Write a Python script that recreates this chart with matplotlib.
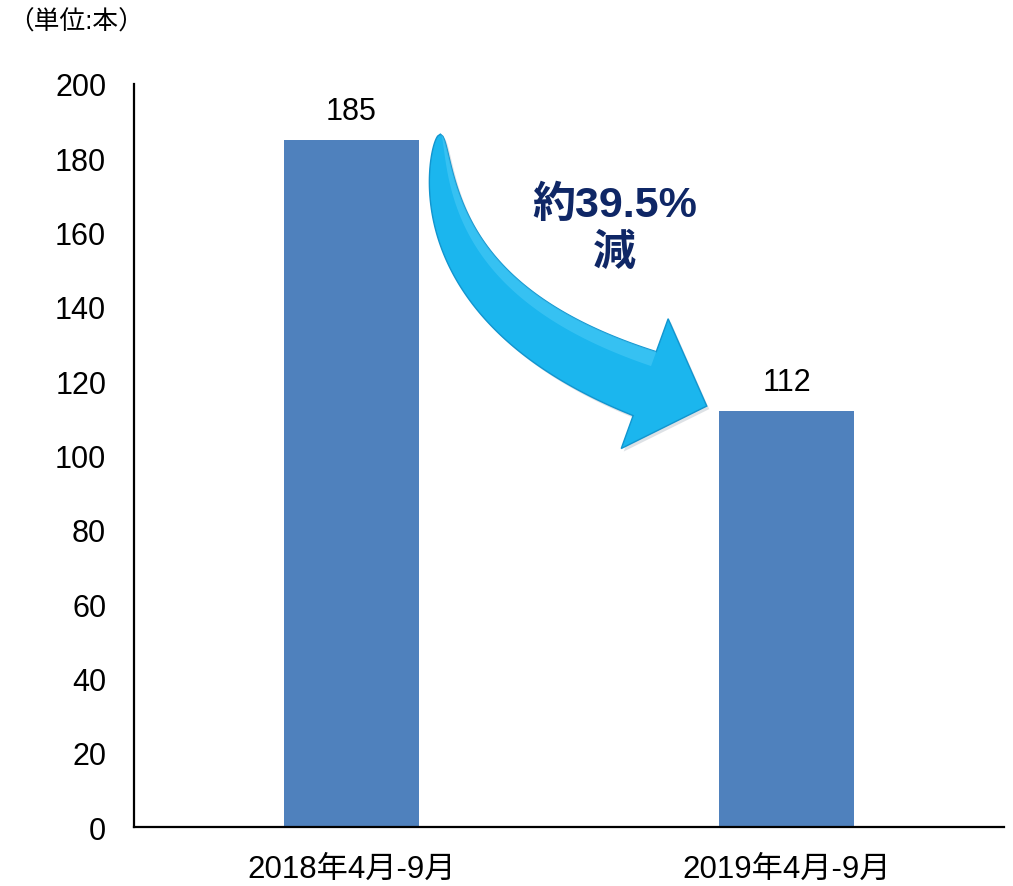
import matplotlib
matplotlib.use("Agg")
import numpy as np
import matplotlib.pyplot as plt
from matplotlib.patches import Polygon

categories = ["2018年4月-9月", "2019年4月-9月"]
values = [185, 112]
yticks = [0, 20, 40, 60, 80, 100, 120, 140, 160, 180, 200]
unit_label = "（単位:本）"
change_label = "約39.5%\n減"

FAM = ["Liberation Sans", "Noto Sans CJK JP", "DejaVu Sans"]
plt.rcParams['font.family'] = FAM

fig = plt.figure(figsize=(10.13, 8.87), dpi=100)
ax = fig.add_axes([0.1323, 0.0665, 0.9911 - 0.1323, 0.9042 - 0.0665])

x = list(range(len(categories)))
bw = 0.3126
ax.bar(x, values, width=bw, color="#4F81BD", zorder=2)
for xi, v in zip(x, values):
    ax.annotate(str(v), (xi, v), xytext=(0, 10), textcoords="offset points",
                ha="center", va="bottom", fontsize=22, color="black")

ax.set_xlim(-0.5, 1.5)
ax.set_ylim(0, 200)
ax.set_yticks(yticks)
ax.set_yticklabels([str(t) for t in yticks])
ax.set_xticks(x)
ax.set_xticklabels(categories)
ax.tick_params(axis="y", length=0, pad=20, labelsize=22)
ax.tick_params(axis="x", length=0, pad=19, labelsize=22.5)
for s in ["top", "right"]:
    ax.spines[s].set_visible(False)
for s in ["left", "bottom"]:
    ax.spines[s].set_linewidth(1.6)
    ax.spines[s].set_color("black")

# ---- curved, tapering decrease arrow between the two bars ----
T = ax.transData
start = (x[0] + bw / 2 + 0.048, values[0] + 1.5)   # tail point near bar 1
end = (x[1] - bw / 2 - 0.027, values[1] + 1.3)     # head tip near bar 2
p0 = T.transform(start)
tip = T.transform(end)
d = np.array([65.0, -23.5])
d /= np.linalg.norm(d)
head_len, head_w, body_w = 66.0, 138.0, 68.0
base = tip - head_len * d
s_ = (base[0] - (p0[0] - 10)) / d[0]
ctrl = base - s_ * d
t = np.linspace(0, 1, 160)
c = ((1 - t) ** 2)[:, None] * p0 + (2 * (1 - t) * t)[:, None] * ctrl + (t ** 2)[:, None] * base
dc = 2 * (1 - t)[:, None] * (ctrl - p0) + 2 * t[:, None] * (base - ctrl)
nrm = np.stack([-dc[:, 1], dc[:, 0]], axis=1)
nrm /= np.linalg.norm(nrm, axis=1)[:, None]
w = (body_w / 2) * t ** 0.5
inner = c + nrm * w[:, None]
outer = c - nrm * w[:, None]
n_end = np.array([-d[1], d[0]])
head = np.array([base + n_end * head_w / 2, tip, base - n_end * head_w / 2])
poly_disp = np.vstack([inner, head, outer[::-1]])
poly_data = T.inverted().transform(poly_disp)
# soft shadow
shadow = T.inverted().transform(poly_disp + np.array([2.5, -3.0]))
ax.add_patch(Polygon(shadow, closed=True, facecolor="#7a8a99", edgecolor="none",
                     alpha=0.25, zorder=3))
ax.add_patch(Polygon(poly_data, closed=True, facecolor="#1BB6EE",
                     edgecolor="#1195CF", linewidth=1.0, zorder=3.2))
# highlight along the inner edge
hl = T.inverted().transform(np.vstack([inner, (c + nrm * (w * 0.55)[:, None])[::-1]]))
ax.add_patch(Polygon(hl, closed=True, facecolor="#5FD3FA", edgecolor="none",
                     alpha=0.4, zorder=3.3))

ax.text(0.605, 161.0, change_label, ha="center", va="center",
        fontsize=31, fontweight="bold", color="#0F2766", linespacing=1.25,
        zorder=4)

fig.text(0.008, 0.975, unit_label, ha="left", va="center", fontsize=18.5,
         color="black")

fig.savefig("out.png", dpi=100)
